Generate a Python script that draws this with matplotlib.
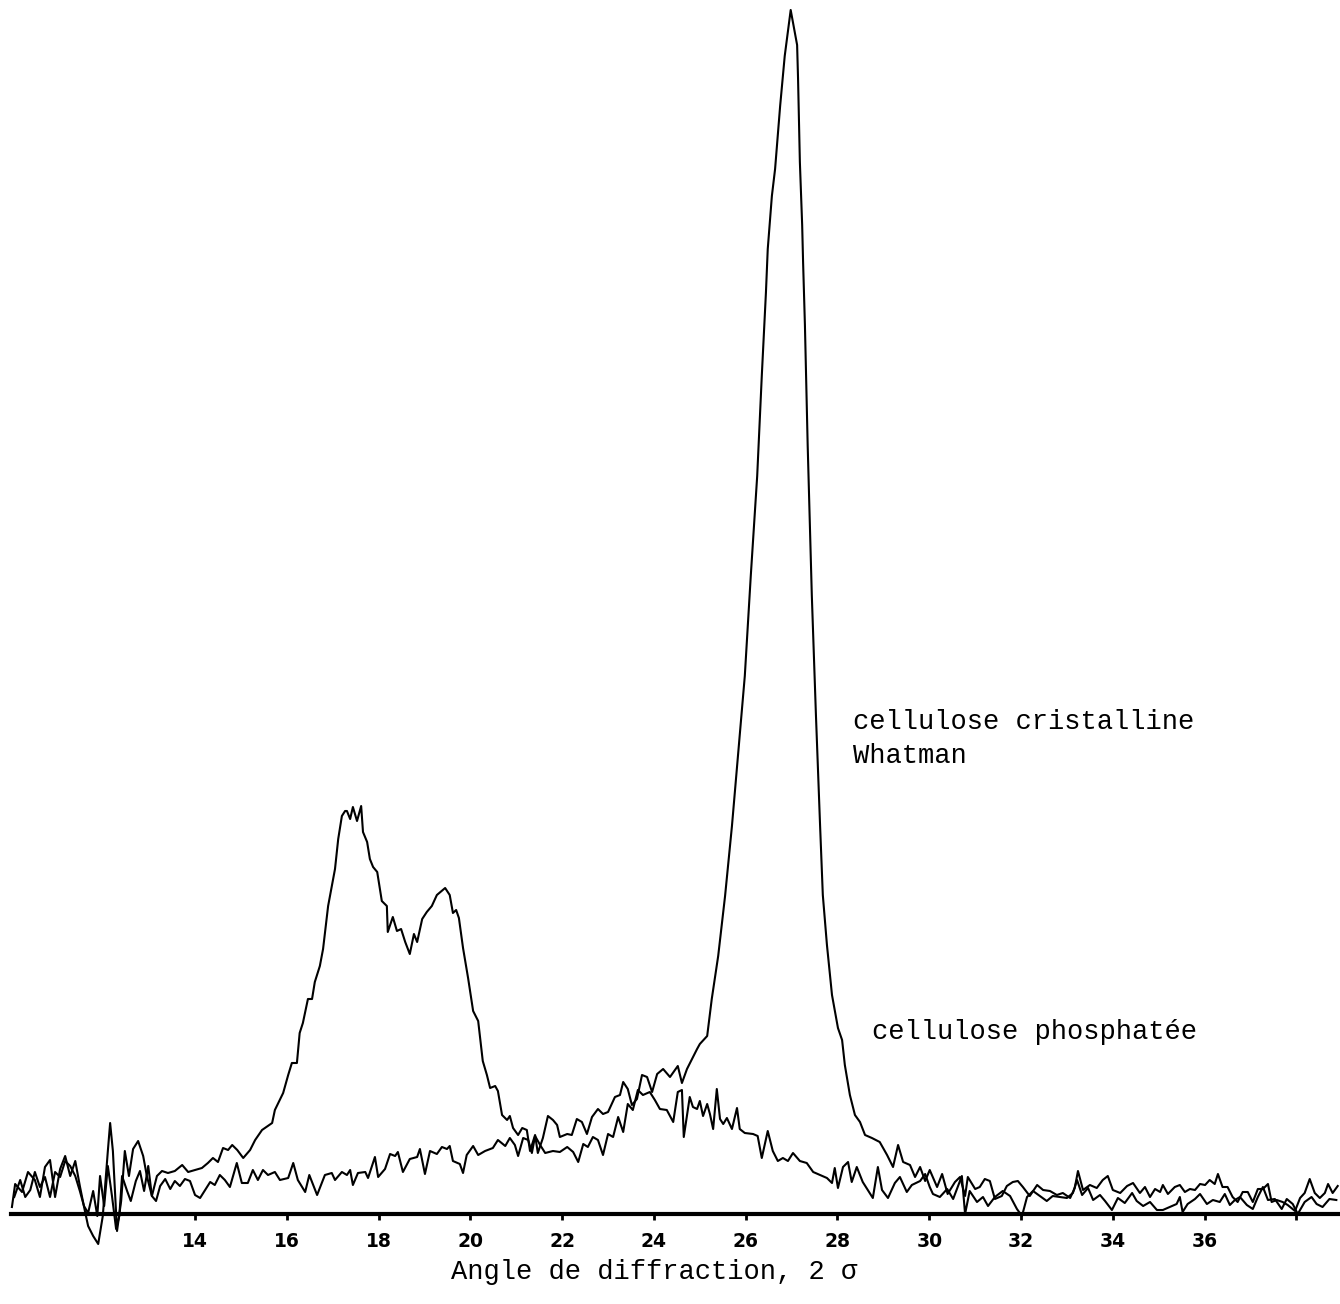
import matplotlib.pyplot as plt

# cellulose cristalline Whatman (angle 2 theta, intensite)
whatman_x = [10.01, 10.08, 10.23, 10.36, 10.51, 10.62, 10.73, 10.84, 10.95, 11.06,
             11.17, 11.28, 11.39, 11.49, 11.60, 11.67, 11.78, 11.89, 11.99, 12.10,
             12.15, 12.21, 12.30, 12.39, 12.47, 12.56, 12.65, 12.76, 12.87, 12.95,
             13.06, 13.17, 13.28, 13.41, 13.56, 13.72, 13.85, 14.00, 14.15, 14.28,
             14.39, 14.50, 14.61, 14.72, 14.81, 14.92, 15.05, 15.20, 15.31, 15.46,
             15.68, 15.74, 15.92, 16.03, 16.11, 16.22, 16.28, 16.35, 16.46, 16.55,
             16.61, 16.72, 16.79, 16.90, 17.05, 17.12, 17.20, 17.27, 17.31, 17.38,
             17.44, 17.53, 17.62, 17.66, 17.75, 17.81, 17.88, 17.97, 18.07, 18.18,
             18.20, 18.31, 18.40, 18.49, 18.58, 18.68, 18.77, 18.84, 18.95, 19.05,
             19.16, 19.27, 19.45, 19.55, 19.62, 19.69, 19.75, 19.84, 19.95, 20.06,
             20.17, 20.27, 20.36, 20.43, 20.54, 20.60, 20.69, 20.80, 20.86, 20.93,
             21.04, 21.13, 21.23, 21.30, 21.41, 21.47, 21.58, 21.69, 21.80, 21.89,
             21.95, 22.11, 22.21, 22.32, 22.43, 22.54, 22.65, 22.78, 22.89, 23.00,
             23.15, 23.26, 23.33, 23.43, 23.52, 23.63, 23.74, 23.85, 23.96, 24.07,
             24.20, 24.35, 24.52, 24.61, 24.72, 24.83, 24.94, 25.00, 25.16, 25.26,
             25.40, 25.55, 25.70, 25.83, 25.98, 26.11, 26.25, 26.35, 26.44, 26.48,
             26.57, 26.64, 26.75, 26.85, 26.98, 27.12, 27.14, 27.18, 27.23, 27.25,
             27.29, 27.35, 27.44, 27.53, 27.62, 27.68, 27.77, 27.88, 28.01, 28.10,
             28.16, 28.27, 28.38, 28.49, 28.60, 28.75, 28.92, 29.08, 29.21, 29.32,
             29.43, 29.58, 29.69, 29.80, 29.91, 30.01, 30.17, 30.28, 30.40, 30.56,
             30.67, 30.78, 30.84, 31.00, 31.10, 31.21, 31.32, 31.43, 31.58, 31.69,
             31.82, 31.93, 32.04, 32.19, 32.35, 32.48, 32.63, 32.78, 32.91, 33.07,
             33.17, 33.24, 33.35, 33.50, 33.65, 33.78, 33.89, 34.00, 34.16, 34.31,
             34.44, 34.59, 34.70, 34.81, 34.92, 35.03, 35.09, 35.20, 35.35, 35.46,
             35.57, 35.68, 35.79, 35.90, 36.01, 36.11, 36.22, 36.29, 36.39, 36.50,
             36.61, 36.72, 36.83, 36.94, 37.05, 37.16, 37.27, 37.38, 37.46, 37.57,
             37.70, 37.81, 37.97, 38.08, 38.18, 38.29, 38.40, 38.51, 38.62, 38.69,
             38.79, 38.90]
whatman_y = [7, 30, 22, 42, 34, 17, 47, 54, 17, 45,
             58, 38, 53, 28, 3, -12, -22, -30, -2, 63,
             91, 63, -17, 13, 63, 38, 65, 73, 58, 38,
             18, 38, 43, 41, 43, 49, 42, 44, 46, 51,
             56, 52, 66, 64, 69, 64, 56, 64, 74, 84,
             91, 104, 121, 139, 151, 151, 181, 191, 215, 215,
             232, 248, 265, 308, 345, 375, 398, 403, 403, 395,
             407, 393, 408, 382, 372, 355, 347, 342, 313, 308,
             282, 297, 283, 285, 272, 260, 280, 272, 295, 302,
             308, 319, 326, 319, 301, 304, 296, 266, 236, 203,
             193, 153, 139, 126, 128, 123, 99, 94, 98, 86,
             79, 86, 84, 63, 79, 61, 76, 98, 94, 89,
             77, 80, 79, 95, 92, 80, 97, 105, 100, 102,
             117, 119, 132, 125, 109, 115, 139, 137, 122, 140,
             145, 137, 148, 131, 145, 155, 165, 170, 178, 215,
             258, 318, 388, 458, 538, 638, 738, 838, 921, 965,
             1018, 1045, 1108, 1158, 1204, 1169, 1136, 1052, 989, 952,
             889, 769, 619, 499, 389, 319, 269, 219, 186, 174,
             149, 119, 99, 92, 79, 76, 72, 59, 47, 69,
             52, 49, 37, 47, 33, 44, 27, 40, 20, 32,
             37, 18, 37, 25, 27, 35, 33, 15, 18, 28,
             32, 33, 27, 18, 29, 24, 23, 19, 21, 16,
             26, 43, 24, 29, 26, 34, 38, 24, 21, 28,
             31, 21, 27, 17, 25, 22, 29, 20, 27, 29,
             22, 25, 24, 30, 29, 34, 30, 40, 27, 27,
             17, 12, 22, 22, 12, 25, 25, 30, 12, 14,
             12, 9, 3, 16, 21, 35, 21, 16, 21, 30,
             21, 28]

# cellulose phosphatee
phos_x = [10.06, 10.19, 10.30, 10.41, 10.51, 10.62, 10.73, 10.84, 10.95, 11.06,
          11.17, 11.28, 11.39, 11.49, 11.58, 11.67, 11.78, 11.87, 11.93, 12.02,
          12.10, 12.19, 12.28, 12.35, 12.41, 12.52, 12.60, 12.71, 12.80, 12.89,
          12.98, 13.06, 13.15, 13.24, 13.35, 13.46, 13.56, 13.67, 13.78, 13.89,
          14.00, 14.11, 14.22, 14.33, 14.43, 14.54, 14.65, 14.76, 14.91, 15.02,
          15.15, 15.26, 15.37, 15.48, 15.59, 15.74, 15.85, 16.03, 16.14, 16.24,
          16.40, 16.49, 16.66, 16.83, 16.98, 17.05, 17.20, 17.31, 17.38, 17.44,
          17.55, 17.71, 17.77, 17.92, 17.99, 18.14, 18.25, 18.36, 18.42, 18.53,
          18.68, 18.84, 18.90, 19.01, 19.12, 19.27, 19.38, 19.49, 19.55, 19.62,
          19.77, 19.84, 19.92, 20.06, 20.17, 20.32, 20.49, 20.60, 20.76, 20.86,
          20.97, 21.04, 21.15, 21.26, 21.34, 21.41, 21.52, 21.63, 21.80, 21.95,
          22.11, 22.24, 22.35, 22.46, 22.56, 22.67, 22.78, 22.89, 23.00, 23.11,
          23.22, 23.33, 23.43, 23.54, 23.65, 23.76, 23.91, 24.02, 24.13, 24.28,
          24.42, 24.52, 24.61, 24.65, 24.78, 24.85, 24.94, 25.00, 25.07, 25.16,
          25.22, 25.29, 25.37, 25.44, 25.51, 25.59, 25.70, 25.81, 25.87, 25.98,
          26.16, 26.26, 26.35, 26.48, 26.59, 26.70, 26.81, 26.92, 27.03, 27.18,
          27.33, 27.47, 27.62, 27.77, 27.88, 27.94, 28.01, 28.12, 28.23, 28.31,
          28.42, 28.55, 28.66, 28.77, 28.88, 28.97, 29.10, 29.25, 29.36, 29.51,
          29.62, 29.80, 29.91, 30.01, 30.08, 30.23, 30.39, 30.52, 30.71, 30.78,
          30.88, 31.04, 31.17, 31.28, 31.43, 31.60, 31.76, 31.91, 32.02, 32.13,
          32.26, 32.41, 32.56, 32.69, 32.85, 33.00, 33.13, 33.22, 33.33, 33.46,
          33.57, 33.72, 33.83, 33.98, 34.11, 34.26, 34.42, 34.52, 34.66, 34.81,
          34.96, 35.09, 35.24, 35.39, 35.46, 35.52, 35.63, 35.79, 35.90, 36.05,
          36.18, 36.33, 36.44, 36.55, 36.66, 36.77, 36.92, 37.05, 37.16, 37.27,
          37.38, 37.53, 37.68, 37.79, 37.92, 38.03, 38.18, 38.33, 38.44, 38.57,
          38.72, 38.87]
phos_y = [17, 34, 17, 24, 42, 27, 37, 17, 42, 37,
          53, 48, 38, 23, 8, 1, 23, -2, 38, 8,
          48, 18, -15, -2, 38, 23, 13, 33, 43, 23,
          48, 18, 13, 28, 35, 25, 33, 28, 35, 33,
          19, 16, 24, 32, 29, 39, 34, 27, 51, 31,
          31, 44, 34, 44, 39, 42, 34, 36, 51, 34,
          22, 39, 19, 39, 41, 34, 42, 39, 44, 29,
          41, 42, 36, 57, 37, 45, 60, 58, 62, 42,
          55, 57, 65, 40, 63, 60, 67, 65, 68, 53,
          50, 41, 59, 68, 59, 63, 66, 74, 68, 76,
          69, 58, 76, 74, 61, 78, 69, 61, 63, 62,
          67, 62, 52, 70, 67, 77, 74, 59, 80, 77,
          97, 82, 110, 104, 124, 119, 122, 114, 105, 104,
          92, 122, 124, 77, 117, 107, 105, 113, 98, 110,
          100, 85, 125, 95, 90, 96, 85, 106, 85, 81,
          80, 78, 56, 83, 63, 53, 56, 53, 61, 53,
          51, 42, 39, 36, 31, 46, 26, 47, 52, 32,
          47, 32, 24, 16, 47, 24, 16, 31, 37, 22,
          29, 33, 40, 27, 20, 17, 25, 15, 38, 0,
          23, 12, 17, 8, 17, 23, 18, 5, -2, 17,
          23, 18, 13, 18, 17, 16, 21, 34, 19, 26,
          14, 19, 13, 4, 16, 11, 21, 13, 8, 12,
          4, 4, 7, 10, 17, 2, 10, 15, 20, 10,
          14, 12, 20, 9, 14, 17, 9, 5, 17, 27,
          14, 15, 5, 15, 10, 0, 12, 17, 10, 7,
          15, 14]

tick_pos = [14, 16, 18, 20, 22, 24, 26, 28, 30, 32, 34, 36, 38]
tick_txt = ['14', '16', '18', '20', '22', '24', '26', '28', '30', '32', '34', '36', '']

fig = plt.figure(figsize=(13.4, 13.04), dpi=100)
ax = fig.add_axes([0, 0, 1, 1])

ax.plot(whatman_x, whatman_y, color='black', lw=1.5)
ax.plot(phos_x, phos_y, color='black', lw=1.5)

ax.set_xlim(9.75, 38.95)
ax.set_ylim(-90, 1214)

for s in ['top', 'left', 'right']:
    ax.spines[s].set_visible(False)
ax.spines['bottom'].set_position(('data', 0))
ax.spines['bottom'].set_bounds(10.0, 38.95)
ax.spines['bottom'].set_linewidth(3)
ax.set_yticks([])
ax.set_xticks(tick_pos)
ax.set_xticklabels(tick_txt, fontsize=13.5, fontweight='bold', family='DejaVu Sans')
ax.tick_params(axis='x', direction='out', length=4, width=2, pad=9)
ax.patch.set_alpha(0)

mono = 'Liberation Mono'
ax.text(24.0, -58, 'Angle de diffraction, 2 σ', ha='center', va='center',
        fontsize=19.5, family=mono)
ax.text(28.34, 492, 'cellulose cristalline', ha='left', va='center',
        fontsize=19.5, family=mono)
ax.text(28.34, 458, 'Whatman', ha='left', va='center', fontsize=19.5, family=mono)
ax.text(28.75, 182, 'cellulose phosphatée', ha='left', va='center',
        fontsize=19.5, family=mono)

fig.savefig('out.png', dpi=100, facecolor='white')
